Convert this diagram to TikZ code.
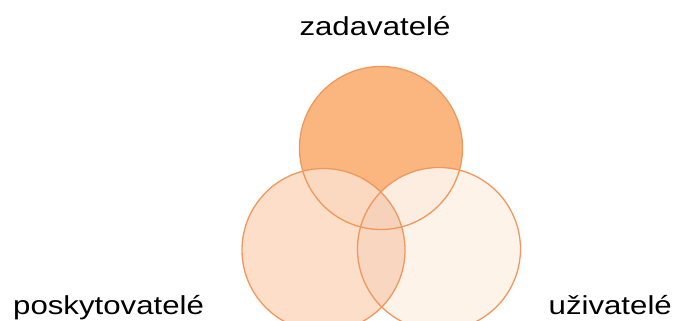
\documentclass[tikz,border=0pt]{standalone}
\usepackage{fontspec}
\newfontfamily\lab[FakeStretch=1.2]{Liberation Sans}
\definecolor{ctop}{RGB}{251,182,128}
\definecolor{cleft}{RGB}{253,222,200}
\definecolor{cright}{RGB}{254,243,233}
\definecolor{ctl}{RGB}{250,217,192}
\definecolor{ctr}{RGB}{253,237,225}
\definecolor{clr}{RGB}{249,214,191}
\definecolor{call}{RGB}{247,210,186}
\definecolor{edge}{RGB}{240,152,92}
\begin{document}
\begin{tikzpicture}[x=1pt,y=1pt,
  ring/.style={draw=edge,line width=1.3pt},
  lbl/.style={font=\lab\fontsize{26}{30}\selectfont,inner sep=0pt}]
\useasboundingbox (0,0) rectangle (677,321);
\coordinate (T) at (381,173);
\coordinate (L) at (323.5,71);
\coordinate (R) at (439,72);
\def\rad{81.5}
\fill[ctop] (T) circle (\rad);
\fill[cleft] (L) circle (\rad);
\fill[cright] (R) circle (\rad);
\begin{scope}
  \clip (T) circle (\rad);
  \fill[ctl] (L) circle (\rad);
  \fill[ctr] (R) circle (\rad);
\end{scope}
\begin{scope}
  \clip (L) circle (\rad);
  \fill[clr] (R) circle (\rad);
  \clip (T) circle (\rad);
  \fill[call] (R) circle (\rad);
\end{scope}
\draw[ring] (T) circle (\rad);
\draw[ring] (L) circle (\rad);
\draw[ring] (R) circle (\rad);
\node[lbl,anchor=base] (zad) at (375,285) {zadavatelé};
\node[lbl,anchor=base west] (pos) at (13,6) {poskytovatelé};
\node[lbl,anchor=base east] (uzi) at (672,6) {uživatelé};
\end{tikzpicture}
\end{document}
